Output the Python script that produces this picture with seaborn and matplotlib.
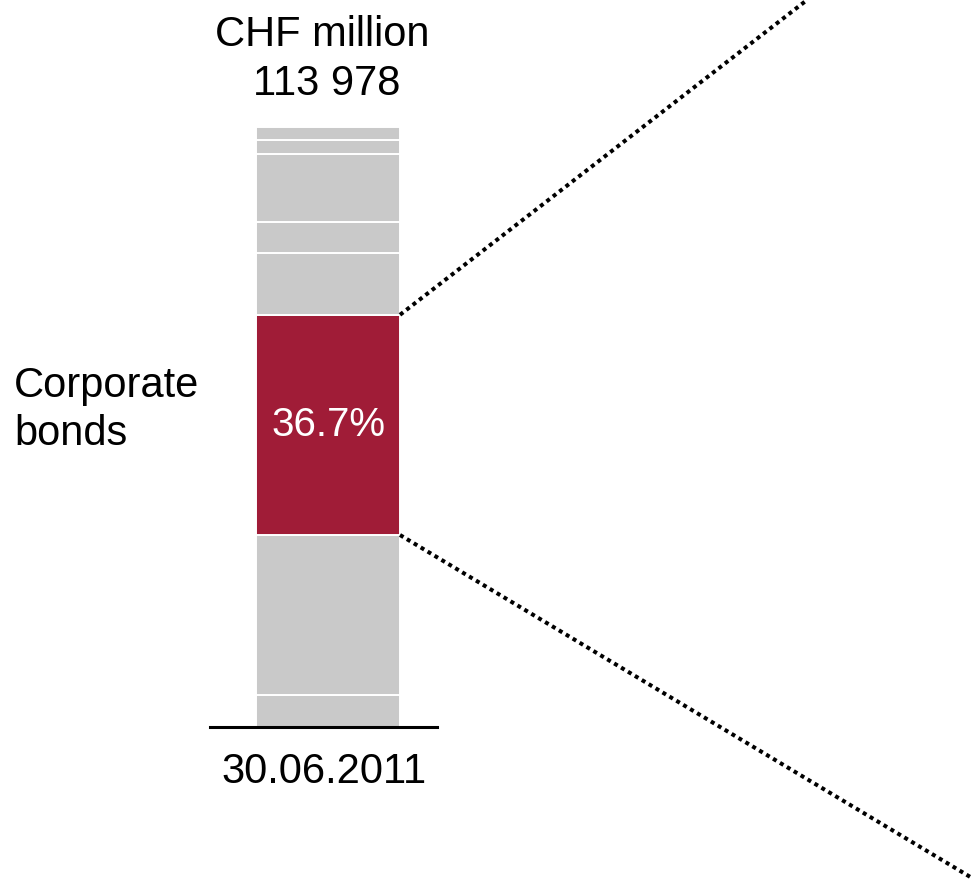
import matplotlib
matplotlib.use("Agg")
import matplotlib.pyplot as plt
import seaborn as sns
import pandas as pd
from matplotlib.lines import Line2D

# Portfolio composition at the reporting date, percent of total (bottom to top)
date_label = "30.06.2011"
segments = ["Other 1", "Other 2", "Corporate bonds", "Other 3", "Other 4",
            "Other 5", "Other 6", "Other 7"]
shares = [5.3, 26.7, 36.7, 10.3, 5.1, 11.4, 2.3, 2.2]
highlight = "Corporate bonds"
total_label = "113 978"
unit_label = "CHF million"

GREY = "#C9C9C9"
RED = "#A01C37"

sns.set_theme(style="white")
plt.rcParams["font.family"] = ["Liberation Sans", "DejaVu Sans"]

W, H = 976, 883
fig = plt.figure(figsize=(W / 100, H / 100), dpi=100)

# axes whose bottom spine is the short baseline under the bar
ax_left, ax_right = 210, 437
ax_bottom, ax_top = 727, 127
ax = fig.add_axes([ax_left / W, (H - ax_bottom) / H,
                   (ax_right - ax_left) / W, (ax_bottom - ax_top) / H])

bar_width = 144 / (ax_right - ax_left)
df = pd.DataFrame({"date": [date_label] * len(segments),
                   "segment": segments, "share": shares})
df["bottom"] = df["share"].cumsum() - df["share"]

for _, row in df.iterrows():
    sns.barplot(x=[row["date"]], y=[row["share"]], bottom=row["bottom"],
                color=RED if row["segment"] == highlight else GREY,
                saturation=1, width=bar_width, edgecolor="white",
                linewidth=1.4, ax=ax)

centre_frac = (328 - ax_left) / (ax_right - ax_left)
ax.set_xlim(-centre_frac, 1 - centre_frac)
ax.set_ylim(0, 100)
ax.set_xticks([])
ax.set_yticks([])
ax.set_xlabel("")
ax.set_ylabel("")
for side in ["left", "right", "top"]:
    ax.spines[side].set_visible(False)
ax.spines["bottom"].set_color("black")
ax.spines["bottom"].set_linewidth(2.2)

# highlighted segment
hl = df[df["segment"] == highlight].iloc[0]
hl_lo, hl_hi = hl["bottom"], hl["bottom"] + hl["share"]
ax.text(0, (hl_lo + hl_hi) / 2, f"{hl['share']:.1f}%", color="white",
        fontsize=29, ha="center", va="center")

# dotted leader lines from the highlighted segment's right corners
fig.canvas.draw()
to_fig = fig.transFigure.inverted()
x_edge = bar_width / 2
p_top = to_fig.transform(ax.transData.transform((x_edge, hl_hi)))
p_bot = to_fig.transform(ax.transData.transform((x_edge, hl_lo)))
for p, end in [(p_top, (807 / W, 1.0)), (p_bot, (972 / W, (H - 878) / H))]:
    fig.add_artist(Line2D([p[0], end[0]], [p[1], end[1]],
                          transform=fig.transFigure, color="black",
                          linewidth=2.9, linestyle=(0, (1, 1.0)),
                          clip_on=False))

# texts
fs = 30
fig.text(322 / W, (H - 46) / H, unit_label, fontsize=fs, ha="center",
         va="baseline", color="black")
fig.text(327 / W, (H - 95) / H, total_label, fontsize=fs, ha="center",
         va="baseline", color="black")
fig.text(14 / W, (H - 397) / H, "Corporate", fontsize=fs, ha="left",
         va="baseline", color="black")
fig.text(14 / W, (H - 445) / H, "bonds", fontsize=fs, ha="left",
         va="baseline", color="black")
fig.text(324 / W, (H - 783) / H, date_label, fontsize=fs, ha="center",
         va="baseline", color="black")

fig.savefig("out.png", dpi=100)
